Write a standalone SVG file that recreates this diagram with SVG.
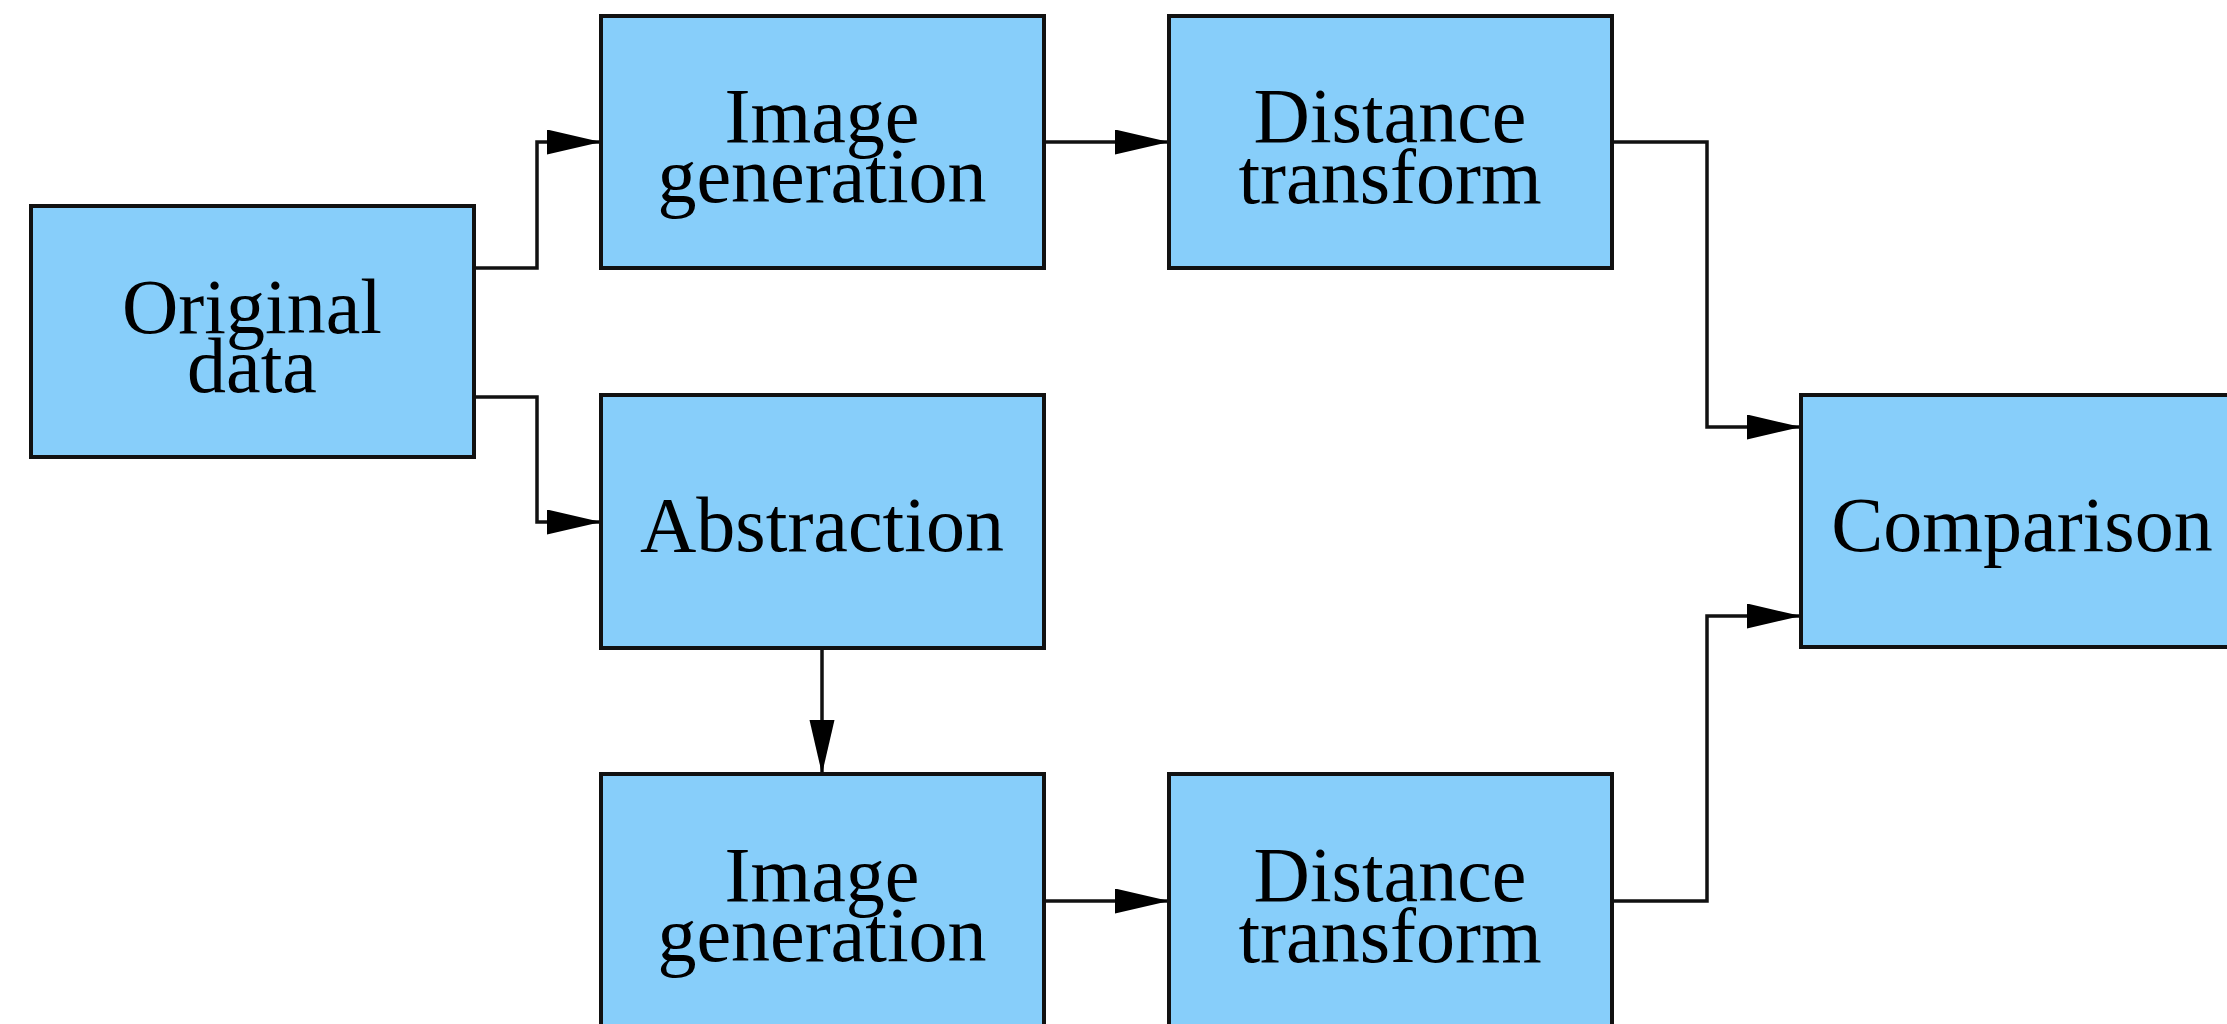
<svg xmlns="http://www.w3.org/2000/svg" width="2227" height="1024" viewBox="0 0 2227 1024">
<defs>
<style>
.box{fill:#87CEFA;stroke:#111;stroke-width:4}
.lbl{font-family:"Liberation Serif","Times New Roman",serif;font-size:78px;fill:#000;text-anchor:middle}
.edge{fill:none;stroke:#111;stroke-width:3.5}
</style>
<marker id="arr" markerUnits="userSpaceOnUse" markerWidth="56" markerHeight="26" refX="54" refY="12.5" orient="auto">
<path d="M0,0 L54,12.5 L0,25 z" fill="#000"/>
</marker>
</defs>
<rect width="2227" height="1024" fill="#fff"/>
<g id="connectors">
<path class="edge" d="M474,268 H537 V142 H601" marker-end="url(#arr)"/>
<path class="edge" d="M474,397 H537 V522 H601" marker-end="url(#arr)"/>
<path class="edge" d="M1044,142 H1169" marker-end="url(#arr)"/>
<path class="edge" d="M1612,142 H1707 V427 H1801" marker-end="url(#arr)"/>
<path class="edge" d="M822,648 V774" marker-end="url(#arr)"/>
<path class="edge" d="M1044,901 H1169" marker-end="url(#arr)"/>
<path class="edge" d="M1612,901 H1707 V616 H1801" marker-end="url(#arr)"/>
</g>
<g id="original">
<rect class="box" x="31" y="206" width="443" height="251"/>
<text class="lbl" x="252" y="333">Original</text>
<text class="lbl" x="252" y="392">data</text>
</g>
<g id="imggen1">
<rect class="box" x="601" y="16" width="443" height="252"/>
<text class="lbl" x="822" y="142">Image</text>
<text class="lbl" x="822" y="202">generation</text>
</g>
<g id="dist1">
<rect class="box" x="1169" y="16" width="443" height="252"/>
<text class="lbl" x="1390" y="142">Distance</text>
<text class="lbl" x="1390" y="203">transform</text>
</g>
<g id="abstraction">
<rect class="box" x="601" y="395" width="443" height="253"/>
<text class="lbl" x="822" y="551">Abstraction</text>
</g>
<g id="comparison">
<rect class="box" x="1801" y="395" width="443" height="252"/>
<text class="lbl" x="2022" y="551">Comparison</text>
</g>
<g id="imggen2">
<rect class="box" x="601" y="774" width="443" height="253"/>
<text class="lbl" x="822" y="901">Image</text>
<text class="lbl" x="822" y="961">generation</text>
</g>
<g id="dist2">
<rect class="box" x="1169" y="774" width="443" height="253"/>
<text class="lbl" x="1390" y="901">Distance</text>
<text class="lbl" x="1390" y="962">transform</text>
</g>
</svg>
